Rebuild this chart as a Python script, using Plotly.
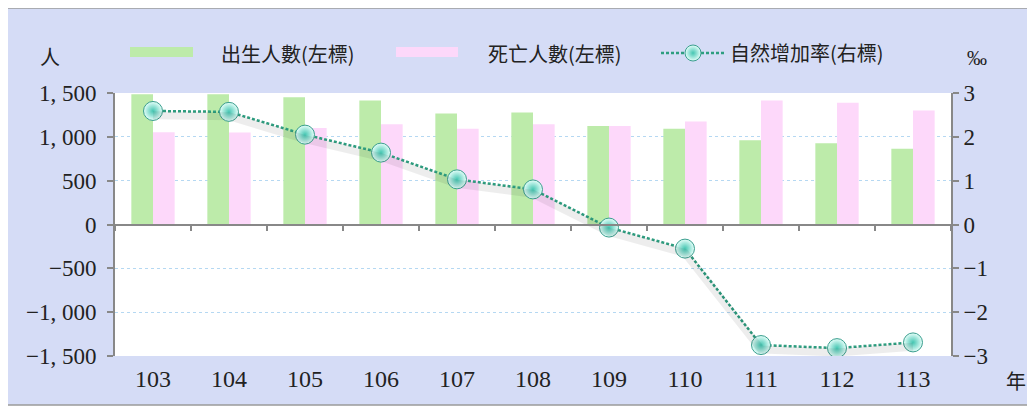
import plotly.graph_objects as go

years = ["103", "104", "105", "106", "107", "108", "109", "110", "111", "112", "113"]
births = [1486, 1486, 1452, 1414, 1266, 1277, 1125, 1091, 961, 927, 863]
deaths = [1052, 1049, 1102, 1144, 1091, 1144, 1125, 1174, 1414, 1388, 1300]
rates = [2.59, 2.57, 2.05, 1.64, 1.03, 0.80, -0.07, -0.55, -2.75, -2.82, -2.69]

left_ticks = [-1500, -1000, -500, 0, 500, 1000, 1500]
right_ticks = [-3, -2, -1, 0, 1, 2, 3]

series_names = ["出生人數(左標)", "死亡人數(左標)", "自然增加率(右標)"]

OFF = 8  # page body margin
W, H = 1035 - OFF, 410 - OFF
L, R, T, B = 115 - OFF, 951 - OFF, 93 - OFF, 356 - OFF  # plot area (figure px)

def px(x):  # page pixel -> paper x
    return (x - OFF - L) / (R - L)

def py(y):  # page pixel -> paper y
    return (B - (y - OFF)) / (B - T)

def fmt_left(v):
    s = "{:,}".format(abs(v)).replace(",", ", ")
    return ("−" + s) if v < 0 else s

def fmt_right(v):
    return ("−" + str(abs(v))) if v < 0 else str(v)

GREEN = "#BDEBAA"
PINK = "#FDD8FA"
SERIF = "Liberation Serif, Noto Sans CJK TC, serif"
CJK = "Noto Sans CJK TC, sans-serif"
TXT = "#222222"

idx = list(range(len(years)))
xrange_ = [-0.5, len(years) - 0.5]

fig = go.Figure()
fig.add_trace(go.Bar(x=years, y=births, name=series_names[0], marker=dict(color=GREEN, line=dict(width=0)),
                     showlegend=False, xaxis="x", yaxis="y"))
fig.add_trace(go.Bar(x=years, y=deaths, name=series_names[1], marker=dict(color=PINK, line=dict(width=0)),
                     showlegend=False, xaxis="x", yaxis="y"))
# invisible helper so the labelled bottom axis is rendered
fig.add_trace(go.Scatter(x=idx, y=births, mode="markers", marker=dict(opacity=0), showlegend=False,
                         hoverinfo="skip", xaxis="x2", yaxis="y"))
# soft shadow under the rate line
fig.add_trace(go.Scatter(x=years, y=rates, mode="lines", line=dict(color="rgba(0,0,0,0.07)", width=8),
                         showlegend=False, hoverinfo="skip", xaxis="x", yaxis="y3"))
fig.add_trace(go.Scatter(x=years, y=rates, name=series_names[2], mode="lines+markers",
                         line=dict(color="#2E9E80", width=2.5, dash="3px,2px"),
                         marker=dict(size=19, color="#E6FFFA",
                                     gradient=dict(type="radial", color="#45C6B2"),
                                     line=dict(color="#3A9E8E", width=1)),
                         xaxis="x", yaxis="y2"))

shapes = [
    dict(type="rect", xref="paper", yref="paper", x0=px(7), x1=px(1032), y0=py(405), y1=py(8),
         fillcolor="#D5DCF6", line=dict(color="#9A9A9A", width=1.5), layer="below"),
    dict(type="rect", xref="paper", yref="paper", x0=0, x1=1, y0=0, y1=1,
         fillcolor="white", line=dict(width=0), layer="below"),
    dict(type="rect", xref="paper", yref="paper", x0=px(130), x1=px(193), y0=py(57), y1=py(47),
         fillcolor=GREEN, line=dict(width=0)),
    dict(type="rect", xref="paper", yref="paper", x0=px(396), x1=px(458), y0=py(57), y1=py(47),
         fillcolor=PINK, line=dict(width=0)),
]

annotations = [
    dict(text=series_names[0], xref="paper", yref="paper", x=px(288), y=py(53), xanchor="center", yanchor="middle",
         showarrow=False, font=dict(family=CJK, size=20, color=TXT)),
    dict(text=series_names[1], xref="paper", yref="paper", x=px(555), y=py(53), xanchor="center", yanchor="middle",
         showarrow=False, font=dict(family=CJK, size=20, color=TXT)),
    dict(text="人", xref="paper", yref="paper", x=px(50), y=py(56), xanchor="center", yanchor="middle",
         showarrow=False, font=dict(family=CJK, size=20, color=TXT)),
    dict(text="‰", xref="paper", yref="paper", x=px(977), y=py(58), xanchor="center", yanchor="middle",
         showarrow=False, font=dict(family=SERIF, size=20, color=TXT)),
    dict(text="年", xref="paper", yref="paper", x=px(1016), y=py(380), xanchor="center", yanchor="middle",
         showarrow=False, font=dict(family=CJK, size=20, color=TXT)),
]

fig.update_layout(
    width=W, height=H, autosize=False,
    margin=dict(l=L, r=W - R, t=T, b=H - B, pad=0),
    paper_bgcolor="white", plot_bgcolor="white",
    barmode="group", bargap=0.43, bargroupgap=0,
    shapes=shapes, annotations=annotations,
    showlegend=True,
    legend=dict(orientation="h", x=px(656), y=py(53), xanchor="left", yanchor="middle",
                bgcolor="rgba(0,0,0,0)", font=dict(family=CJK, size=20, color=TXT),
                itemwidth=64),
    xaxis=dict(type="category", categoryorder="array", categoryarray=years, range=xrange_,
               anchor="free", position=0.5, showline=True, linecolor="#888", linewidth=2,
               ticks="outside", tickson="boundaries", ticklen=5, tickcolor="#888", tickwidth=2,
               showticklabels=False, showgrid=False, zeroline=False),
    xaxis2=dict(overlaying="x", anchor="y", side="bottom", range=xrange_,
                tickvals=idx, ticktext=years, ticks="", showline=False, ticklabelstandoff=6,
                showgrid=False, zeroline=False, tickfont=dict(family=SERIF, size=24, color=TXT)),
    yaxis=dict(range=[-1500, 1500], tickvals=left_ticks, ticktext=[fmt_left(v) for v in left_ticks],
               showline=True, linecolor="#888", linewidth=2, ticks="outside", ticklen=6, tickcolor="#888",
               tickwidth=2, showgrid=True, gridcolor="#B5D8F2", griddash="dot", gridwidth=1,
               ticklabelstandoff=6,
               zeroline=False, tickfont=dict(family=SERIF, size=23, color=TXT)),
    yaxis2=dict(overlaying="y", side="right", anchor="x", range=[-3, 3], tickvals=right_ticks,
                ticktext=[fmt_right(v) for v in right_ticks], showline=True, linecolor="#888", linewidth=2,
                ticks="outside", ticklen=6, tickcolor="#888", tickwidth=2, showgrid=False, zeroline=False,
                tickfont=dict(family=SERIF, size=23, color=TXT)),
    yaxis3=dict(overlaying="y", range=[-2.9, 3.1], visible=False),
)

fig.write_html("out.html")
